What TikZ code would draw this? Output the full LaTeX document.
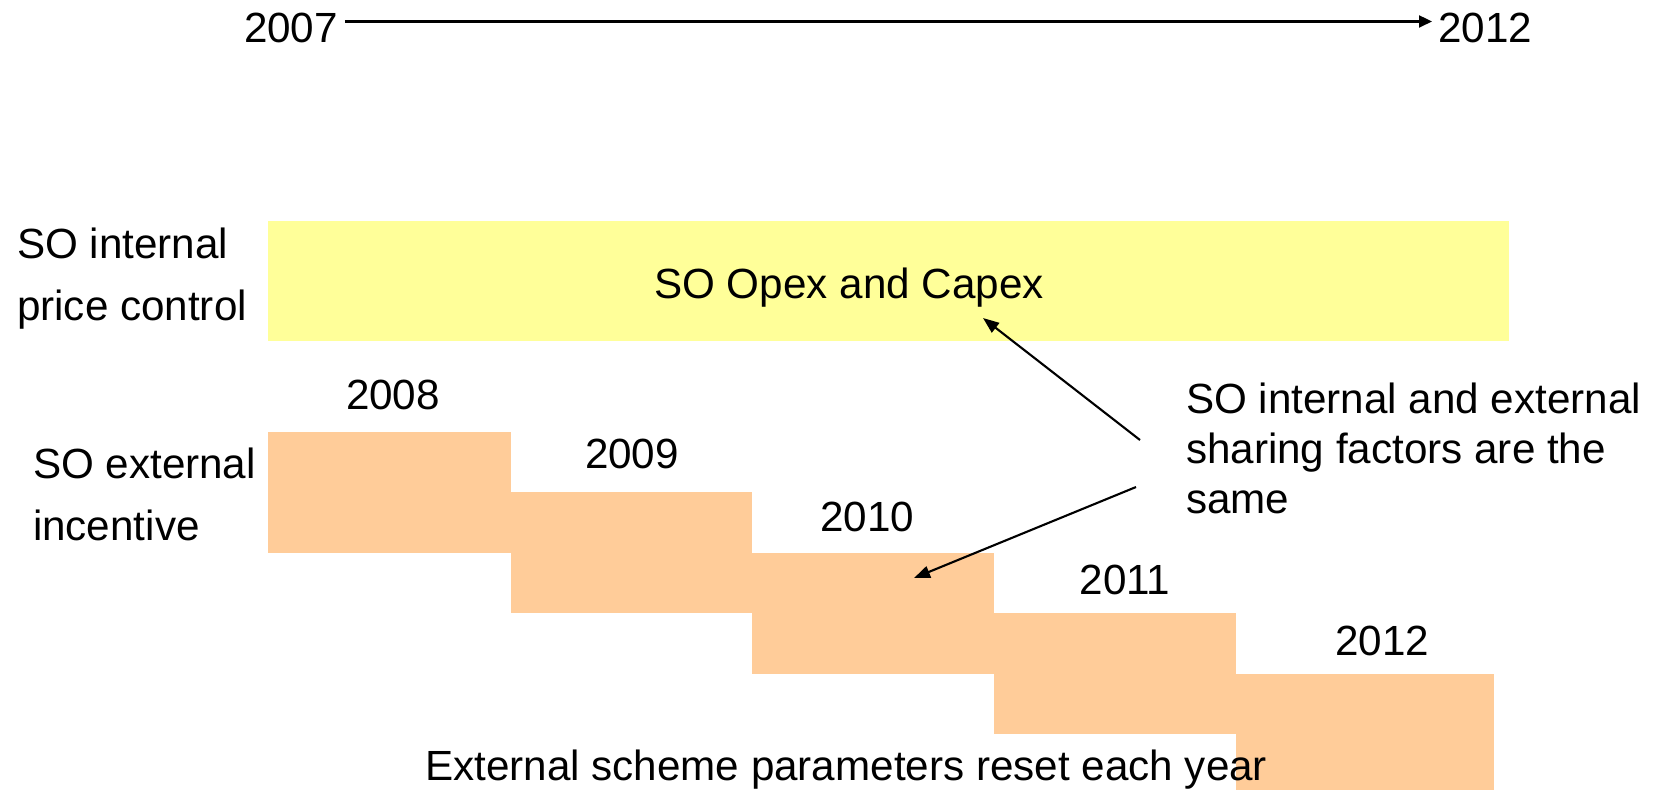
\documentclass[tikz,border=0pt]{standalone}
\usepackage{fontspec}
\setmainfont{Liberation Sans}
\usepackage{tikz}
\usepackage{xcolor}
\usetikzlibrary{arrows.meta}
\definecolor{ctrlyellow}{RGB}{255,255,153}
\definecolor{stepfill}{RGB}{255,204,153}

\begin{document}
\begin{tikzpicture}[x=0.01cm,y=-0.01cm,line width=0.6pt,
  txt/.style={inner sep=0pt,font=\fontsize{12}{14.2}\selectfont},
  sidetxt/.style={txt,align=left,font=\fontsize{12}{17.6}\selectfont},
  tip/.style={-{Triangle[length=0.16cm,width=0.12cm]}}]
\useasboundingbox (0,0) rectangle (1664,790);
\fill[color=ctrlyellow] (268,221) rectangle (1509,341);
\fill[color=stepfill] (268,432) rectangle (511,553);
\fill[color=stepfill] (511,492) rectangle (752,613);
\fill[color=stepfill] (752,553) rectangle (994,674);
\fill[color=stepfill] (994,613) rectangle (1236,734);
\fill[color=stepfill] (1236,674) rectangle (1494,790);
\node[txt,anchor=base west] (y2007) at (243,42) {2007};
\node[txt,anchor=base west] (y2012) at (1437,42) {2012};
\draw[-{Triangle[length=0.13cm,width=0.12cm]}] ([xshift=0.06cm,yshift=0.06cm]y2007.east) -- ([xshift=-0.05cm,yshift=0.06cm]y2012.west);
% multi-line nodes: base is the last line
\node[sidetxt,anchor=base west] (intlbl) at (16,320.5) {SO internal\\price control};
\node[sidetxt,anchor=base west] (extlbl) at (32,540) {SO external\\incentive};
\node[txt,anchor=base] (opex) at (849,298.5) {SO Opex and Capex};
\node[txt,anchor=base] (s2008) at (393,409.5) {2008};
\node[txt,anchor=base] (s2009) at (632,468.5) {2009};
\node[txt,anchor=base] (s2010) at (867,531.5) {2010};
\node[txt,anchor=base] (s2011) at (1125,594.5) {2011};
\node[txt,anchor=base] (s2012) at (1382,655.5) {2012};
\node[txt,align=left,anchor=base west] (share) at (1185,513.5) {SO internal and external\\sharing factors are the\\same};
\node[txt,anchor=base west] (reset) at (424,780) {External scheme parameters reset each year};
% arrow ends
\coordinate (shareA) at (1140,440);
\coordinate (opexEnd) at (983,318);
\coordinate (shareB) at (1136,487);
\coordinate (stepEnd) at (914,578);
\draw[tip] (shareA) -- (opexEnd);
\draw[tip] (shareB) -- (stepEnd);
\end{tikzpicture}
\end{document}
